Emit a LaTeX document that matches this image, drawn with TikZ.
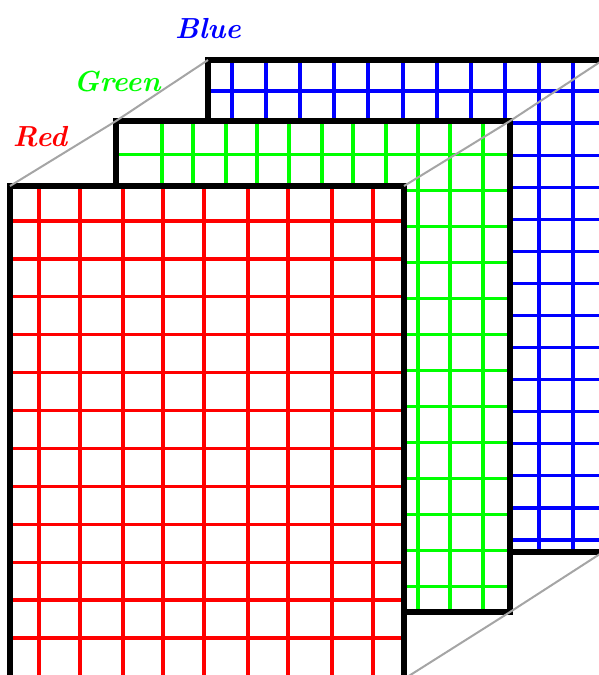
\documentclass[tikz,border=0pt]{standalone}
\begin{document}
\begin{tikzpicture}[x=1pt,y=-1pt,
  frame/.style={line width=6pt, black, line join=miter},
  gridline/.style={line width=3.2pt},
  guide/.style={line width=2pt, draw={rgb,255:red,165;green,165;blue,165}},
  lbl/.style={font=\fontsize{29}{35}\selectfont\bfseries\itshape, anchor=base, inner sep=0pt}]
\useasboundingbox (0,0) rectangle (599,675);
\clip (0,0) rectangle (599,675);
% corners
\coordinate (btl) at (208,60);  \coordinate (bbr) at (603,552);
\coordinate (btr) at (603,60);  \coordinate (bbl) at (208,552);
\coordinate (gtl) at (116,121); \coordinate (gbr) at (510,612);
\coordinate (gtr) at (510,121); \coordinate (gbl) at (116,612);
\coordinate (rtl) at (10,186);  \coordinate (rbr) at (404,679);
\coordinate (rtr) at (404,186); \coordinate (rbl) at (10,679);
% blue panel
\fill[white] (btl) rectangle (bbr);
\begin{scope}
  \clip (btl) rectangle (bbr);
  \foreach \x in {232,266,300,334,368,403,437,471,505,539,573}
    \draw[gridline,blue] (\x,60) -- (\x,552);
  \foreach \k in {0,...,14}
    \draw[gridline,blue] (208,{91+32.07*\k}) -- (603,{91+32.07*\k});
\end{scope}
\draw[frame] (btl) rectangle (bbr);
% green panel
\fill[white] (gtl) rectangle (gbr);
\begin{scope}
  \clip (gtl) rectangle (gbr);
  \foreach \x in {162,193,226,257,289,322,353,386,418,450,483}
    \draw[gridline,green] (\x,121) -- (\x,612);
  \foreach \k in {0,...,12}
    \draw[gridline,green] (116,{154.5+36*\k}) -- (510,{154.5+36*\k});
\end{scope}
\draw[frame] (gtl) rectangle (gbr);
% red panel
\fill[white] (rtl) rectangle (rbr);
\begin{scope}
  \clip (rtl) rectangle (rbr);
  \foreach \x in {39,80,123,163,204,248,288,332,373}
    \draw[gridline,red] (\x,186) -- (\x,679);
  \foreach \k in {0,...,11}
    \draw[gridline,red] (10,{221+37.9*\k}) -- (404,{221+37.9*\k});
\end{scope}
\draw[frame] (rtl) rectangle (rbr);
% perspective guides
\draw[guide] (rtl) -- (gtl) -- (btl);
\draw[guide] (rtr) -- (gtr) -- (btr);
\draw[guide] (rbr) -- (gbr) -- (bbr);
% labels
\node[lbl, text=blue]  (lblue)  at (208,38) {Blue};
\node[lbl, text=green] (lgreen) at (117,91) {Green};
\node[lbl, text=red]   (lred)   at (40,146) {Red};
\end{tikzpicture}
\end{document}
